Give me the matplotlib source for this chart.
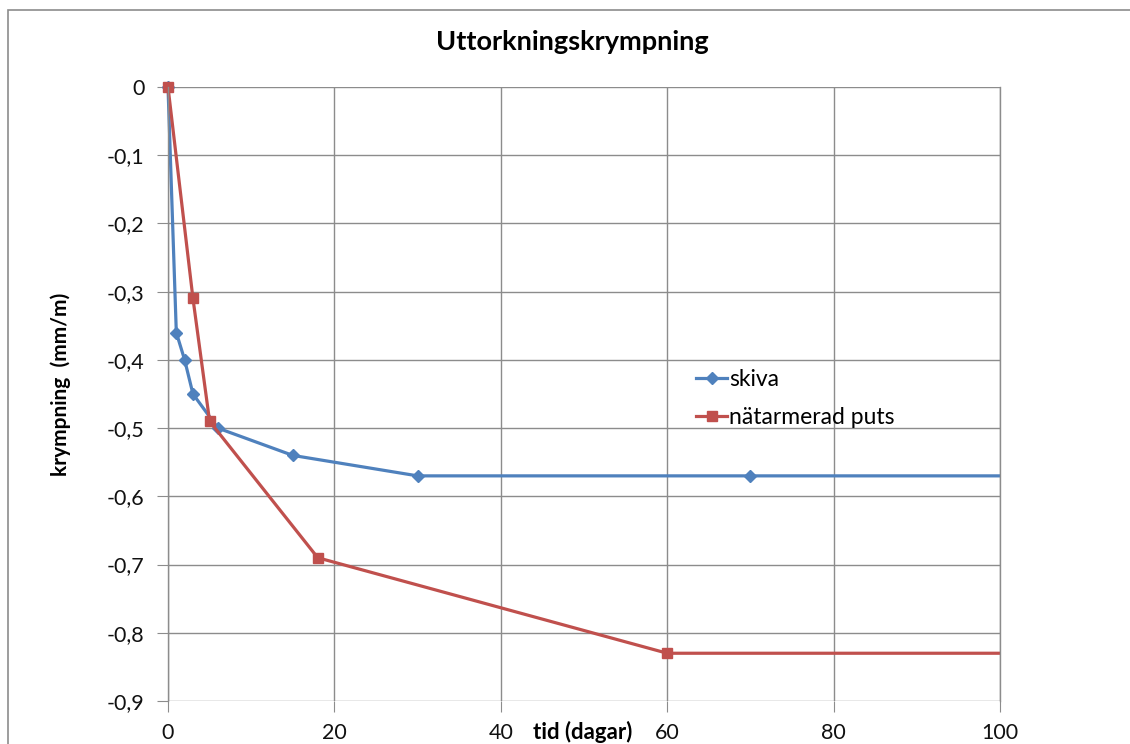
import matplotlib.pyplot as plt
from matplotlib.patches import Rectangle
from matplotlib.ticker import FuncFormatter

plt.rcParams['font.family'] = ['Lato', 'DejaVu Sans']

# data
skiva_days = [0, 1, 2, 3, 6, 15, 30, 70, 130]
skiva_shrink = [0, -0.36, -0.40, -0.45, -0.50, -0.54, -0.57, -0.57, -0.57]
puts_days = [0, 3, 5, 18, 60, 130]
puts_shrink = [0, -0.31, -0.49, -0.69, -0.83, -0.83]

x_ticks = [0, 20, 40, 60, 80, 100]
y_ticks = [0, -0.1, -0.2, -0.3, -0.4, -0.5, -0.6, -0.7, -0.8, -0.9]

blue = '#4F81BD'
red = '#C0504D'
grid = '#8C8C8C'

fig = plt.figure(figsize=(11.3, 7.44), dpi=100)
# outer chart border (cut off at right and bottom like the screenshot)
fig.patches.append(Rectangle((8 / 1130, -0.1), 1.2, 1 - 10 / 744 + 0.1,
                             transform=fig.transFigure, fill=False,
                             edgecolor='#8C8C8C', linewidth=1.2))

ax = fig.add_axes([168 / 1130, 1 - 701 / 744, 832 / 1130, 614 / 744])

ax.plot(skiva_days, skiva_shrink, color=blue, linewidth=2.3, marker='D',
        markersize=6, label='skiva')
ax.plot(puts_days, puts_shrink, color=red, linewidth=2.3, marker='s',
        markersize=7.5, label='nätarmerad puts')
ax.set_xlim(0, 100)
ax.set_ylim(-0.9, 0)
ax.set_xticks(x_ticks)
ax.set_yticks(y_ticks)
ax.yaxis.set_major_formatter(FuncFormatter(lambda v, p: ('%g' % round(v, 1)).replace('.', ',')))
ax.grid(True, color=grid, linewidth=1)
ax.set_axisbelow(True)
for s in ['top', 'bottom']:
    ax.spines[s].set_visible(False)
for s in ['left', 'right']:
    ax.spines[s].set_color(grid)
    ax.spines[s].set_linewidth(1)
ax.tick_params(axis='both', length=8, color=grid, labelsize=15.5, labelcolor='#111111')
ax.tick_params(axis='y', pad=9)
ax.tick_params(axis='x', pad=8)

# clip lines to the plot area but keep the marker at the origin whole
clip = Rectangle((-0.015, -0.01), 1.015, 1.03, transform=ax.transAxes)
for line in ax.lines:
    line.set_clip_path(clip)

fig.text(572 / 1130, 1 - 42 / 744, 'Uttorkningskrympning', ha='center',
         va='center', fontsize=19.5, fontweight='bold')
fig.text(61 / 1130, 1 - 384 / 744, 'krympning  (mm/m)', ha='center',
         va='center', rotation=90, fontsize=15, fontweight='bold')
fig.text(583 / 1130, 1 - 732 / 744, 'tid (dagar)', ha='center',
         va='center', fontsize=16, fontweight='bold')

ax.legend(loc='upper left', bbox_to_anchor=(0.61, 0.575), frameon=False,
          fontsize=16.5, handlelength=1.35, handletextpad=0.1, labelspacing=0.75)

fig.savefig('out.png', dpi=100)
